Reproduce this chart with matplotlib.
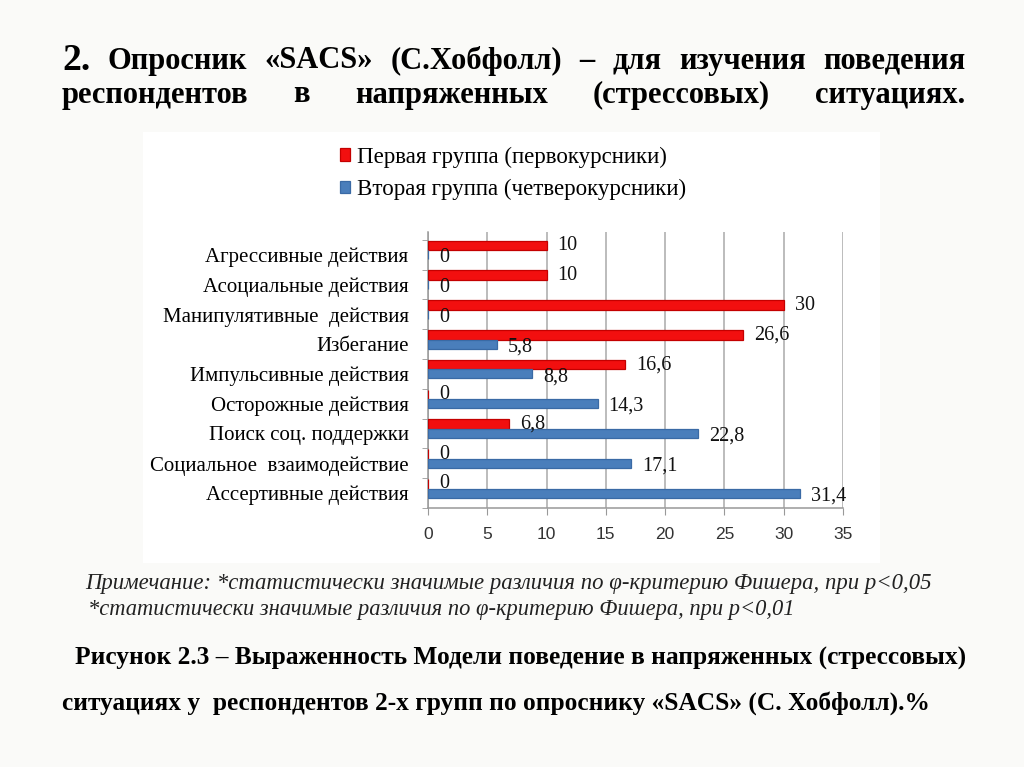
import matplotlib.pyplot as plt
import numpy as np
from matplotlib.patches import Rectangle

# data (bottom -> top, as in the chart)
categories = ['Ассертивные действия', 'Социальное  взаимодействие', 'Поиск соц. поддержки',
              'Осторожные действия', 'Импульсивные действия', 'Избегание',
              'Манипулятивные  действия', 'Асоциальные действия', 'Агрессивные действия']
group1 = [0, 0, 6.8, 0, 16.6, 26.6, 30, 10, 10]
group2 = [31.4, 17.1, 22.8, 14.3, 8.8, 5.8, 0, 0, 0]
series_names = ['Первая группа (первокурсники)', 'Вторая группа (четверокурсники)']
xticks = [0, 5, 10, 15, 20, 25, 30, 35]

title1 = ['2.', 'Опросник', '«SACS»', '(С.Хобфолл)', '–', 'для', 'изучения', 'поведения']
title2 = ['респондентов', 'в', 'напряженных', '(стрессовых)', 'ситуациях.']
note1 = 'Примечание: *статистически значимые различия по φ-критерию Фишера, при p<0,05'
note2 = '*статистически значимые различия по φ-критерию Фишера, при p<0,01'
caption1 = 'Рисунок 2.3 – Выраженность Модели поведение в напряженных (стрессовых)'
caption2 = 'ситуациях у  респондентов 2-х групп по опроснику «SACS» (С. Хобфолл).%'

RED = '#f20f0f'
BLUE = '#4a7ebb'
SERIF = 'Liberation Serif'
W, H = 1024, 767

fig = plt.figure(figsize=(10.24, 7.67), dpi=100, facecolor='#fafaf8')
fig.add_artist(Rectangle((143 / W, 1 - 563 / H), (880 - 143) / W, (563 - 132) / H,
                         transform=fig.transFigure, facecolor='white', edgecolor='none', zorder=0))

ax = fig.add_axes([428 / W, 1 - 508 / H, (843 - 428) / W, (508 - 232) / H])
ax.set_facecolor('none')

y = np.arange(len(categories))
b1 = ax.barh(y + 0.31, group1, height=0.32, color=RED, edgecolor='#c40000', linewidth=0.9,
             label=series_names[0], zorder=3)
b2 = ax.barh(y, group2, height=0.3, color=BLUE, edgecolor='#3a6aa5', linewidth=0.9,
             label=series_names[1], zorder=3)

def fmt(v):
    return f'{v:g}'.replace('.', ',')

for yy, v in zip(y, group1):
    ax.annotate(fmt(v), (v, yy + 0.31), xytext=(8, 0), textcoords='offset points',
                va='center', ha='left', fontsize=14.5, family=SERIF, color='#111111')
for yy, v in zip(y, group2):
    ax.annotate(fmt(v), (v, yy), xytext=(8, -2), textcoords='offset points',
                va='center', ha='left', fontsize=14.5, family=SERIF, color='#111111')

ax.set_xlim(0, 35)
ax.set_ylim(-0.47, 8.76)
ax.set_xticks(xticks)
ax.set_yticks(y, categories)
ax.set_yticks(np.arange(-0.5, len(categories), 1), minor=True)
for lab in ax.get_yticklabels():
    lab.set_family(SERIF)
    lab.set_fontsize(15)
for lab in ax.get_xticklabels():
    lab.set_family('Liberation Sans')
    lab.set_fontsize(12.5)
    lab.set_color('#333333')
ax.tick_params(axis='y', which='major', length=0, pad=14)
ax.tick_params(axis='y', which='minor', length=4, color='#999999')
ax.tick_params(axis='x', length=5, color='#999999', pad=9)
ax.grid(axis='x', color='#aaaaaa', linewidth=1.1, zorder=0)
ax.set_axisbelow(True)
for s in ['top', 'right']:
    ax.spines[s].set_visible(False)
for s in ['left', 'bottom']:
    ax.spines[s].set_color('#999999')
    ax.spines[s].set_linewidth(1.1)

fig.legend(handles=[b1, b2], loc='upper left', bbox_to_anchor=(319 / W, 1 - 126 / H),
           frameon=False, handlelength=0.45, handleheight=0.45, handletextpad=0.3,
           labelspacing=0.5, prop={'family': SERIF, 'size': 16.5})

# justified title
r = fig.canvas.get_renderer()

def justify(words, yc, x0, x1, sizes):
    texts = [fig.text(0, 1 - yc / H, w, fontsize=s, family=SERIF, fontweight='bold',
                      va='center', ha='left') for w, s in zip(words, sizes)]
    widths = [t.get_window_extent(r).width for t in texts]
    gap = (x1 - x0 - sum(widths)) / (len(words) - 1)
    x = x0
    for t, w in zip(texts, widths):
        t.set_x(x / W)
        x += w + gap

justify(title1, 61, 62, 965, [27] + [22] * (len(title1) - 1))
justify(title2, 95, 62, 965, [22] * len(title2))

def fit(s, yc, x0, x1, **kw):
    t = fig.text(x0 / W, 1 - yc / H, s, va='center', ha='left', family=SERIF, fontsize=16, **kw)
    w = t.get_window_extent(r).width
    t.set_fontsize(16 * (x1 - x0) / w)

fit(note1, 584, 85, 935, style='italic', color='#222222')
fit(note2, 610, 88, 797, style='italic', color='#222222')
fit(caption1, 658, 75, 970, fontweight='bold')
fit(caption2, 703, 62, 932, fontweight='bold')

fig.savefig('out.png', dpi=100, facecolor=fig.get_facecolor())
